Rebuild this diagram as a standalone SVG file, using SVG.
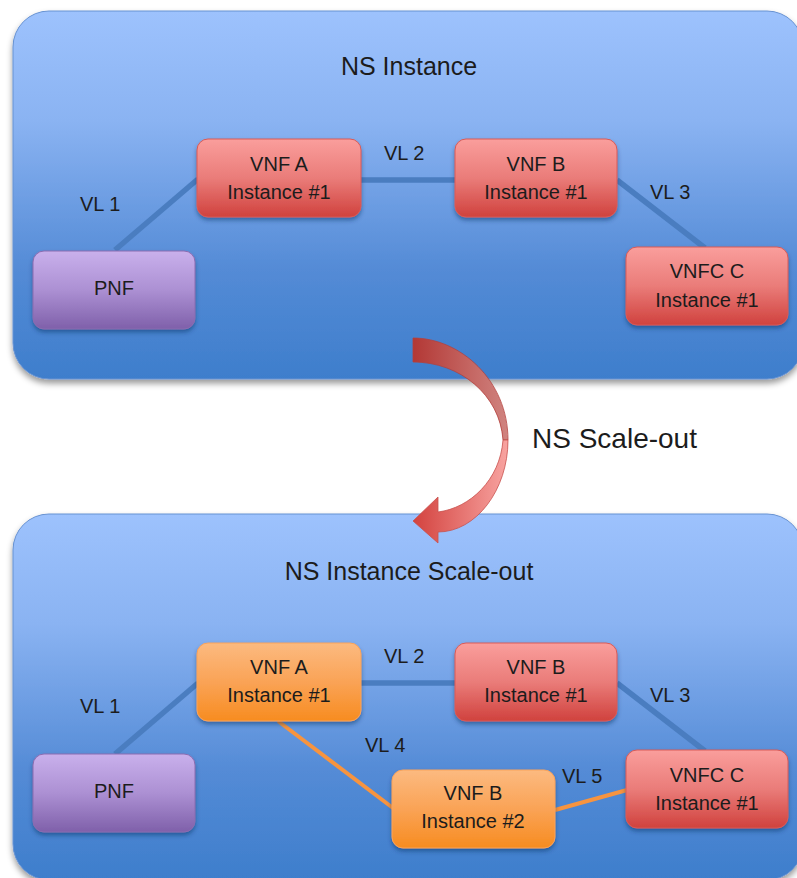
<svg xmlns="http://www.w3.org/2000/svg" width="797" height="878" viewBox="0 0 797 878">
  <style>
    .title { font-family: "Liberation Sans", Arial, sans-serif; font-size: 25px; fill: #1c1c1c; text-anchor: middle; }
    .big { font-family: "Liberation Sans", Arial, sans-serif; font-size: 28px; fill: #1c1c1c; }
    .lbl { font-family: "Liberation Sans", Arial, sans-serif; font-size: 20px; fill: #1c1c1c; }
    .nt { font-family: "Liberation Sans", Arial, sans-serif; font-size: 20px; fill: #1c1c1c; text-anchor: middle; }
    .panel { fill: url(#panelGrad); stroke: #6792d2; stroke-width: 1; filter: url(#panelShadow); }
    .red { fill: url(#redGrad); stroke: #d95a56; stroke-width: 1; filter: url(#nodeShadow); }
    .purple { fill: url(#purpleGrad); stroke: #8a6cb0; stroke-width: 1; filter: url(#nodeShadow); }
    .orange { fill: url(#orangeGrad); stroke: #f9a35a; stroke-width: 1; filter: url(#nodeShadow); }
    .vl { stroke: #4a7dc0; stroke-width: 5.5; fill: none; stroke-linecap: butt; }
    .vlo { stroke: #f7943f; stroke-width: 4; fill: none; }
  </style>
  <defs>
    <linearGradient id="panelGrad" x1="0" y1="0" x2="0" y2="1">
      <stop offset="0" stop-color="#9dc2fd"/>
      <stop offset="0.3" stop-color="#8ab3f2"/>
      <stop offset="0.7" stop-color="#548bd6"/>
      <stop offset="1" stop-color="#3e7ecc"/>
    </linearGradient>
    <linearGradient id="redGrad" x1="0" y1="0" x2="0" y2="1">
      <stop offset="0" stop-color="#fa9e9c"/>
      <stop offset="0.5" stop-color="#ea7c79"/>
      <stop offset="1" stop-color="#d0423e"/>
    </linearGradient>
    <linearGradient id="purpleGrad" x1="0" y1="0" x2="0" y2="1">
      <stop offset="0" stop-color="#c9b0ec"/>
      <stop offset="0.5" stop-color="#ac90d3"/>
      <stop offset="1" stop-color="#7f60aa"/>
    </linearGradient>
    <linearGradient id="orangeGrad" x1="0" y1="0" x2="0" y2="1">
      <stop offset="0" stop-color="#fcba80"/>
      <stop offset="0.5" stop-color="#faa356"/>
      <stop offset="1" stop-color="#f78c20"/>
    </linearGradient>
    <linearGradient id="arrowTop" x1="413" y1="0" x2="508" y2="0" gradientUnits="userSpaceOnUse">
      <stop offset="0" stop-color="#b33835"/>
      <stop offset="1" stop-color="#d08480"/>
    </linearGradient>
    <linearGradient id="arrowBottom" x1="413" y1="0" x2="508" y2="0" gradientUnits="userSpaceOnUse">
      <stop offset="0" stop-color="#d3423e"/>
      <stop offset="1" stop-color="#f8a4a1"/>
    </linearGradient>
    <filter id="panelShadow" x="-5%" y="-5%" width="110%" height="115%">
      <feDropShadow dx="0" dy="4" stdDeviation="3" flood-color="#000" flood-opacity="0.4"/>
    </filter>
    <filter id="nodeShadow" x="-10%" y="-10%" width="120%" height="130%">
      <feDropShadow dx="0" dy="3" stdDeviation="2" flood-color="#0b2a5a" flood-opacity="0.45"/>
    </filter>
  </defs>

  <!-- network service containers -->
  <g id="panel-ns-instance">
    <rect class="panel" x="13" y="11" width="790" height="368" rx="36"/>
    <text class="title" x="409" y="75">NS Instance</text>
  </g>
  <g id="panel-ns-scaleout">
    <rect class="panel" x="13" y="514" width="790" height="366" rx="36"/>
    <text class="title" x="409" y="580">NS Instance Scale-out</text>
  </g>

  <!-- virtual links -->
  <g id="connectors">
    <line class="vl" x1="115" y1="250" x2="198" y2="179"/>
    <line class="vl" x1="361" y1="180" x2="455" y2="180"/>
    <line class="vl" x1="617" y1="180" x2="705" y2="248"/>
    <line class="vl" x1="115" y1="754" x2="198" y2="683"/>
    <line class="vl" x1="361" y1="683" x2="455" y2="683"/>
    <line class="vl" x1="617" y1="683" x2="705" y2="751"/>
    <line class="vlo" x1="278" y1="721" x2="393" y2="808"/>
    <line class="vlo" x1="555" y1="810" x2="627" y2="790"/>
  </g>

  <!-- link labels -->
  <g id="link-labels">
    <text class="lbl" x="80" y="211">VL 1</text>
    <text class="lbl" x="384" y="160">VL 2</text>
    <text class="lbl" x="650" y="199">VL 3</text>
    <text class="lbl" x="80" y="713">VL 1</text>
    <text class="lbl" x="384" y="663">VL 2</text>
    <text class="lbl" x="650" y="702">VL 3</text>
    <text class="lbl" x="365" y="752">VL 4</text>
    <text class="lbl" x="562" y="783">VL 5</text>
  </g>

  <!-- nodes: initial instance -->
  <g id="pnf-1">
    <rect class="purple" x="33" y="251" width="162" height="78" rx="11"/>
    <text class="nt" x="114" y="295">PNF</text>
  </g>
  <g id="vnf-a-1">
    <rect class="red" x="197" y="139" width="164" height="78" rx="11"/>
    <text class="nt" x="279" y="171">VNF A</text>
    <text class="nt" x="279" y="199">Instance #1</text>
  </g>
  <g id="vnf-b-1">
    <rect class="red" x="455" y="139" width="162" height="78" rx="11"/>
    <text class="nt" x="536" y="171">VNF B</text>
    <text class="nt" x="536" y="199">Instance #1</text>
  </g>
  <g id="vnfc-c-1">
    <rect class="red" x="626" y="247" width="162" height="78" rx="11"/>
    <text class="nt" x="707" y="278">VNFC C</text>
    <text class="nt" x="707" y="307">Instance #1</text>
  </g>

  <!-- nodes: scaled-out instance -->
  <g id="pnf-2">
    <rect class="purple" x="33" y="754" width="162" height="78" rx="11"/>
    <text class="nt" x="114" y="798">PNF</text>
  </g>
  <g id="vnf-a-2">
    <rect class="orange" x="197" y="643" width="164" height="78" rx="11"/>
    <text class="nt" x="279" y="674">VNF A</text>
    <text class="nt" x="279" y="702">Instance #1</text>
  </g>
  <g id="vnf-b-2">
    <rect class="red" x="455" y="643" width="162" height="78" rx="11"/>
    <text class="nt" x="536" y="674">VNF B</text>
    <text class="nt" x="536" y="702">Instance #1</text>
  </g>
  <g id="vnfc-c-2">
    <rect class="red" x="626" y="750" width="162" height="78" rx="11"/>
    <text class="nt" x="707" y="782">VNFC C</text>
    <text class="nt" x="707" y="810">Instance #1</text>
  </g>
  <g id="vnf-b-inst2">
    <rect class="orange" x="392" y="770" width="163" height="78" rx="11"/>
    <text class="nt" x="473" y="800">VNF B</text>
    <text class="nt" x="473" y="828">Instance #2</text>
  </g>

  <!-- scale-out transition arrow -->
  <g id="scale-out-arrow">
    <path d="M413,338 C460,338 508,380 508,440 L503,440 C500,395 460,362 413,362 Z" fill="url(#arrowTop)" stroke="#b4403c" stroke-width="0.8"/>
    <path d="M508,440 C508,490 476,532 438,532 L438,543 L413,521 L438,497 L438,512 C470,508 500,480 503,440 Z" fill="url(#arrowBottom)" stroke="#c8504c" stroke-width="0.8"/>
    <text class="big" x="532" y="448">NS Scale-out</text>
  </g>
</svg>
